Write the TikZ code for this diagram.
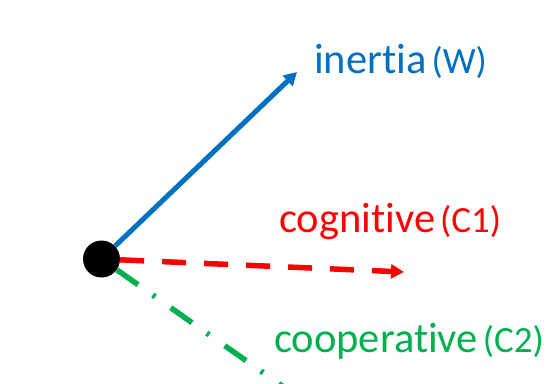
\documentclass[tikz,border=0pt]{standalone}
\usepackage{fontspec}
\setmainfont{Carlito}[Ligatures=NoCommon]
\usetikzlibrary{arrows.meta}
\definecolor{inertiablue}{HTML}{0070C0}
\definecolor{cogred}{HTML}{FF0000}
\definecolor{coopgreen}{HTML}{00B050}
\newcommand{\biglab}{\fontsize{42.5}{50}\selectfont}
\newcommand{\smalllab}{\fontsize{37}{44}\selectfont}
\tikzset{lab/.style={anchor=base west,inner sep=0pt}}
\begin{document}
\begin{tikzpicture}[x=1pt,y=-1pt,>={Triangle[length=13pt,width=14pt]}]
\clip (0,0) rectangle (549,383);
\node[circle,fill=black,inner sep=0pt,minimum size=37pt] (p) at (101.5,259) {};
\coordinate (w) at (297,72);
\coordinate (c1) at (404,272);
\coordinate (c2) at (302,400);
\draw[->,line width=5pt,inertiablue] (p) -- (w);
\draw[->,line width=5.5pt,cogred,dash pattern=on 24pt off 18pt] (p) -- (c1);
\draw[line width=5.5pt,coopgreen,dash pattern=on 26pt off 18pt on 3pt off 19pt] (p) -- (c2);
\node[lab,text=inertiablue] (wlab) at (314,73) {\biglab inertia\hspace{5pt}{\smalllab(W)}};
\node[lab,text=cogred] (c1lab) at (279,232) {\biglab cognitive\hspace{5pt}{\smalllab(C1)}};
\node[lab,text=coopgreen] (c2lab) at (274,352) {\biglab cooperative\hspace{5pt}{\smalllab(C2)}};
\end{tikzpicture}
\end{document}
